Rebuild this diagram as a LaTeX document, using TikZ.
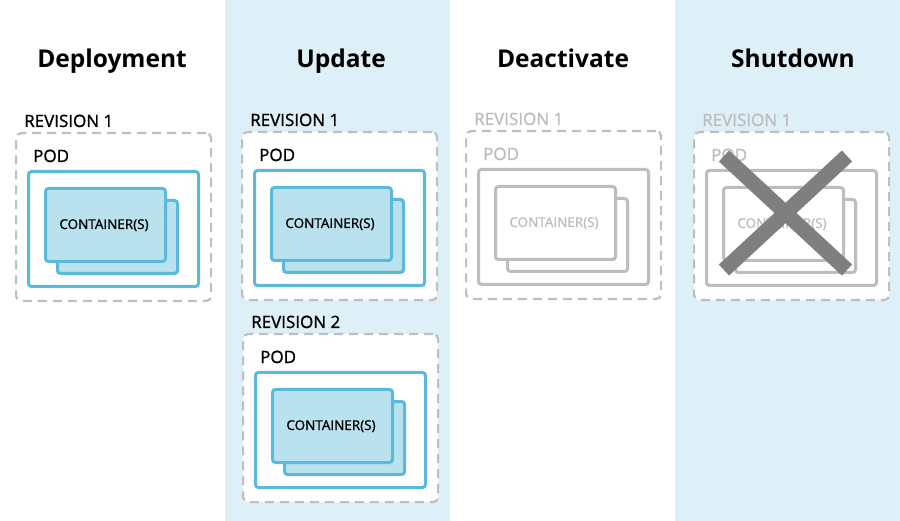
\documentclass[tikz,border=0pt]{standalone}
\usepackage{fontspec}
\setmainfont{Open Sans}
\newfontfamily\semifont[FakeBold=1.2]{Open Sans}
\definecolor{colbg}{HTML}{DEF0F7}
\definecolor{dashgray}{HTML}{BFBFBF}
\definecolor{podblue}{HTML}{5BB9D9}
\definecolor{contfill}{HTML}{B9E2EE}
\definecolor{offgray}{HTML}{BDBDBD}
\definecolor{crossgray}{HTML}{7F7F7F}
\tikzset{
  revbox/.style={draw=dashgray, line width=2.2pt, dash pattern=on 9pt off 6pt,
    rounded corners=5pt, fill=white, anchor=north west, inner sep=0pt,
    minimum width=195pt, minimum height=168pt},
  podbox/.style={line width=3pt, rounded corners=3pt, fill=white, anchor=north west,
    inner sep=0pt, minimum width=170pt, minimum height=115pt},
  contbox/.style={line width=3pt, rounded corners=3pt, anchor=north west,
    inner sep=0pt, minimum width=120pt, minimum height=73pt},
  onstate/.style={draw=podblue},
  onfill/.style={fill=contfill},
  offstate/.style={draw=offgray},
  offfill/.style={fill=white},
  ontext/.style={text=black},
  offtext/.style={text=offgray},
  revlabel/.style={anchor=base west, inner sep=0pt, font=\semifont\fontsize{17}{19}\selectfont},
  podlabel/.style={anchor=base west, inner sep=0pt, font=\semifont\fontsize{17}{19}\selectfont},
  contlabel/.style={anchor=base, inner sep=0pt, font=\semifont\fontsize{13.5}{15}\selectfont},
  title/.style={anchor=base, inner sep=0pt, font=\fontsize{24.5}{28}\selectfont\bfseries},
  crossline/.style={draw=crossgray, line width=15pt, line cap=butt}
}
% #1 name, #2 x, #3 y, #4 label, #5 line style, #6 fill style, #7 text style
\newcommand\revgroup[7]{%
  \node[revbox] (#1) at (#2,#3) {};
  \node[revlabel,#7] (#1lab) at ({#2+9},{#3-5}) {#4};
  \node[podlabel,#7] (#1podlab) at ({#2+18},{#3+30}) {POD};
  \node[podbox,#5] (#1pod) at ({#2+12},{#3+38}) {};
  \node[contbox,#5,fill=white,#6] (#1back) at ({#2+41},{#3+67}) {};
  \node[contbox,#5,fill=white,#6] (#1front) at ({#2+29},{#3+55}) {};
  \node[contlabel,#7] (#1contlab) at ({#2+89},{#3+97}) {CONTAINER(S)};
}
\begin{document}
\begin{tikzpicture}[x=1pt,y=-1pt]
\useasboundingbox (0,0) rectangle (900,521);
\fill[colbg] (225,0) rectangle (450,521);
\fill[colbg] (675,0) rectangle (900,521);
\node[title] (t1) at (112,68) {Deployment};
\node[title] (t2) at (341,68) {Update};
\node[title] (t3) at (563,68) {Deactivate};
\node[title] (t4) at (793,68) {Shutdown};
\revgroup{dep}{15}{132}{REVISION 1}{onstate}{onfill}{ontext}
\revgroup{upa}{241}{131}{REVISION 1}{onstate}{onfill}{ontext}
\revgroup{upb}{242}{333}{REVISION 2}{onstate}{onfill}{ontext}
\revgroup{dea}{465}{130}{REVISION 1}{offstate}{offfill}{offtext}
\revgroup{shu}{693}{131}{REVISION 1}{offstate}{offfill}{offtext}
\coordinate (xa) at (724,156);
\coordinate (xb) at (847,270);
\coordinate (xc) at (847,156);
\coordinate (xd) at (724,270);
\draw[crossline] (xa) -- (xb);
\draw[crossline] (xc) -- (xd);
\end{tikzpicture}
\end{document}
